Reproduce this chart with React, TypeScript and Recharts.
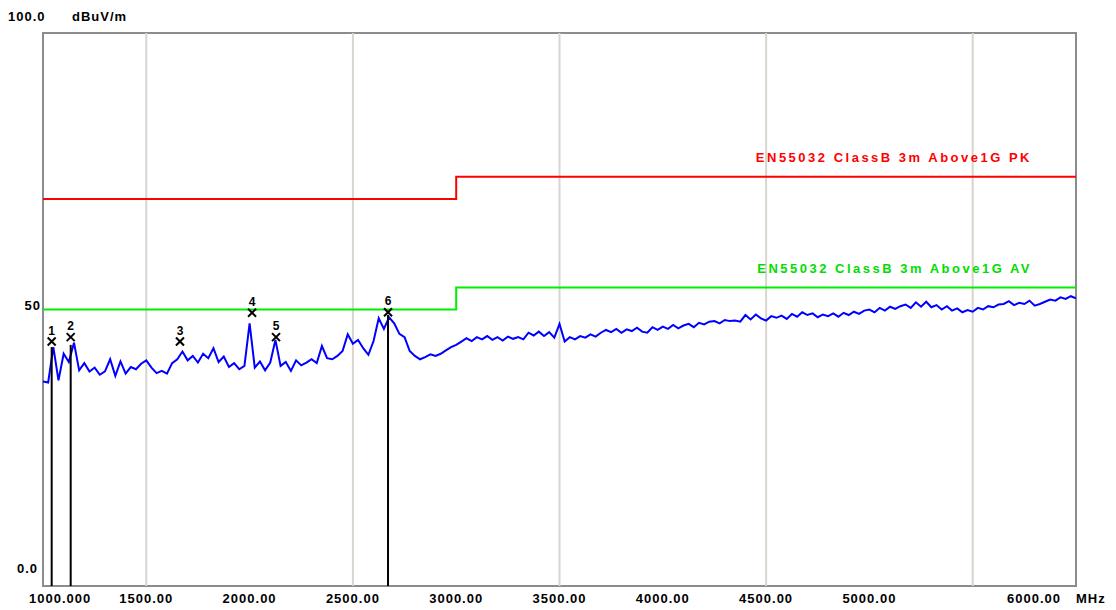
import React from "react";
import {
  ComposedChart,
  Line,
  Scatter,
  XAxis,
  YAxis,
  ReferenceLine,
  ReferenceArea,
} from "recharts";

// Frequency sweep (MHz) and measured level (dBuV/m)
const traceFreqs = [
  1000, 1025, 1050, 1075, 1100, 1125, 1150, 1175, 1200, 1225, 1250, 1275, 1300, 1325, 1350, 1375, 1400, 1425, 1450, 1475,
  1500, 1525, 1550, 1575, 1600, 1625, 1650, 1675, 1700, 1725, 1750, 1775, 1800, 1825, 1850, 1875, 1900, 1925, 1950, 1975,
  2000, 2025, 2050, 2075, 2100, 2125, 2150, 2175, 2200, 2225, 2250, 2275, 2300, 2325, 2350, 2375, 2400, 2425, 2450, 2475,
  2500, 2525, 2550, 2575, 2600, 2625, 2650, 2675, 2700, 2725, 2750, 2775, 2800, 2825, 2850, 2875, 2900, 2925, 2950, 2975,
  3000, 3025, 3050, 3075, 3100, 3125, 3150, 3175, 3200, 3225, 3250, 3275, 3300, 3325, 3350, 3375, 3400, 3425, 3450, 3475,
  3500, 3525, 3550, 3575, 3600, 3625, 3650, 3675, 3700, 3725, 3750, 3775, 3800, 3825, 3850, 3875, 3900, 3925, 3950, 3975,
  4000, 4025, 4050, 4075, 4100, 4125, 4150, 4175, 4200, 4225, 4250, 4275, 4300, 4325, 4350, 4375, 4400, 4425, 4450, 4475,
  4500, 4525, 4550, 4575, 4600, 4625, 4650, 4675, 4700, 4725, 4750, 4775, 4800, 4825, 4850, 4875, 4900, 4925, 4950, 4975,
  5000, 5025, 5050, 5075, 5100, 5125, 5150, 5175, 5200, 5225, 5250, 5275, 5300, 5325, 5350, 5375, 5400, 5425, 5450, 5475,
  5500, 5525, 5550, 5575, 5600, 5625, 5650, 5675, 5700, 5725, 5750, 5775, 5800, 5825, 5850, 5875, 5900, 5925, 5950, 5975,
  6000,
];
const traceLevels = [
  37.0, 36.8, 43.2, 37.2, 42.0, 40.5, 44.0, 39.0, 40.3, 38.8, 39.5, 38.2, 38.8, 41.0, 38.0, 40.6, 38.4, 39.6, 39.2, 40.2,
  40.8, 39.5, 38.5, 38.9, 38.4, 40.3, 41.0, 42.4, 40.8, 41.6, 40.4, 42.0, 41.2, 43.0, 40.5, 41.5, 39.6, 40.3, 39.2, 39.8,
  47.5, 39.5, 40.6, 39.0, 40.4, 44.5, 39.8, 40.5, 38.9, 40.8, 39.9, 40.4, 41.0, 40.3, 43.4, 41.2, 41.0, 41.6, 42.5, 45.5,
  43.8, 44.5, 43.0, 41.8, 44.3, 48.4, 46.5, 48.6, 47.5, 45.6, 45.0, 42.5, 41.6, 41.0, 41.4, 41.9, 41.6, 42.0, 42.6, 43.2,
  43.6, 44.2, 44.8, 44.3, 45.0, 44.6, 45.2, 44.5, 45.0, 44.4, 45.1, 44.7, 45.0, 44.6, 45.8, 45.3, 46.0, 45.2, 45.9, 44.9,
  47.4, 44.2, 45.0, 44.6, 45.2, 44.9, 45.5, 45.1, 45.8, 46.3, 45.9, 46.5, 45.8, 46.4, 46.1, 46.7, 46.0, 45.8, 46.8, 46.3,
  46.9, 46.5, 47.2, 46.6, 47.1, 47.4, 46.8, 47.6, 47.3, 47.8, 47.9, 47.5, 48.1, 47.9, 48.0, 47.8, 49.0, 48.2, 49.1, 48.4,
  48.0, 48.8, 48.5, 48.9, 48.3, 49.2, 48.7, 49.5, 49.0, 49.3, 48.6, 49.1, 48.8, 49.3, 48.7, 49.4, 49.0, 49.6, 49.2, 49.8,
  50.0, 49.5, 50.3, 49.8, 50.5, 50.1, 50.6, 50.9, 50.3, 51.3, 50.5, 51.4, 50.4, 50.8, 50.0, 50.6, 49.8, 50.2, 49.5, 49.9,
  49.6, 50.3, 50.0, 50.6, 50.4, 50.9, 51.0, 51.5, 50.8, 51.2, 51.0, 51.6, 50.7, 51.0, 51.4, 51.8, 51.6, 52.2, 51.9, 52.4,
  52.0,
];

// Limit lines
const limitFreqs = [1000, 3000, 6000];
const limitPK = [70, 74, 74];
const limitAV = [50, 54, 54];
const limitPKName = "EN55032 ClassB 3m Above1G PK";
const limitAVName = "EN55032 ClassB 3m Above1G AV";

// Markers
const markerIds = ["1", "2", "3", "4", "5", "6"];
const markerFreqs = [1042, 1134, 1663, 2012, 2128, 2670];
const markerLevels = [44.2, 45.0, 44.2, 49.4, 45.0, 49.5];
const markerHasDrop = [true, true, false, false, false, true];
const markerDropTops = [43.2, 43.6, 0, 0, 0, 49.0];

// Axes
const xTicks = [1000, 1500, 2000, 2500, 3000, 3500, 4000, 4500, 5000, 6000];
const xTickLabels = ["1000.000", "1500.00", "2000.00", "2500.00", "3000.00", "3500.00", "4000.00", "4500.00", "5000.00", "6000.00"];
const xGrid = [1500, 2500, 3500, 4500, 5500];
const yTicks = [0, 50, 100];
const yTickLabels = ["0.0", "50", "100.0"];
const yUnit = "dBuV/m";
const xUnit = "MHz";

const traceData = traceFreqs.map((f, i) => ({ f, level: traceLevels[i] }));
const pkData = limitFreqs.map((f, i) => ({ f, pk: limitPK[i] }));
const avData = limitFreqs.map((f, i) => ({ f, av: limitAV[i] }));
const markerData = markerFreqs.map((f, i) => ({ f, m: markerLevels[i], id: markerIds[i] }));

const FONT = "'Liberation Sans', Arial, sans-serif";
const textStyle = { fontFamily: FONT, fontSize: 13, fontWeight: 700, letterSpacing: 1 } as const;
const limitTextStyle = { fontFamily: FONT, fontSize: 13, fontWeight: 700, letterSpacing: 2.5 } as const;

const XTick = (props: any) => {
  const { x, payload } = props;
  const idx = xTicks.indexOf(payload.value);
  const label = xTickLabels[idx];
  const y = 590;
  if (idx === 0) {
    return (
      <text x={x - 14} y={y} textAnchor="start" dominantBaseline="central" fill="#000" style={textStyle}>
        {label}
      </text>
    );
  }
  if (idx === xTicks.length - 1) {
    return (
      <g>
        <text x={x - 15} y={y} textAnchor="end" dominantBaseline="central" fill="#000" style={textStyle}>
          {label}
        </text>
        <text x={x} y={y} textAnchor="start" dominantBaseline="central" fill="#000" style={textStyle}>
          {xUnit}
        </text>
      </g>
    );
  }
  return (
    <text x={x} y={y} textAnchor="middle" dominantBaseline="central" fill="#000" style={textStyle}>
      {label}
    </text>
  );
};

const YTick = (props: any) => {
  const { y, payload } = props;
  const idx = yTicks.indexOf(payload.value);
  const label = yTickLabels[idx];
  if (payload.value === 100) {
    return (
      <g>
        <text x={0} y={y - 17} textAnchor="start" dominantBaseline="central" fill="#000" style={textStyle}>
          {label}
        </text>
        <text x={64} y={y - 17} textAnchor="start" dominantBaseline="central" fill="#000" style={textStyle}>
          {yUnit}
        </text>
      </g>
    );
  }
  if (payload.value === 0) {
    return (
      <text x={30} y={y - 18} textAnchor="end" dominantBaseline="central" fill="#000" style={textStyle}>
        {label}
      </text>
    );
  }
  return (
    <text x={33} y={y - 4} textAnchor="end" dominantBaseline="central" fill="#000" style={textStyle}>
      {label}
    </text>
  );
};

const MarkerShape = (props: any) => {
  const { cx, cy, payload } = props;
  const s = 4;
  return (
    <g>
      <line x1={cx - s} y1={cy - s} x2={cx + s} y2={cy + s} stroke="#000" strokeWidth={2} />
      <line x1={cx - s} y1={cy + s} x2={cx + s} y2={cy - s} stroke="#000" strokeWidth={2} />
      <text x={cx} y={cy - 11} textAnchor="middle" dominantBaseline="central" fill="#000" style={{ fontFamily: FONT, fontSize: 12, fontWeight: 700 }}>
        {payload.id}
      </text>
    </g>
  );
};

const limitLabel = (name: string, color: string) => (props: any) => {
  const { x, y, index } = props;
  if (index !== limitFreqs.length - 1) return null;
  return (
    <text x={x - 44} y={y - 19} textAnchor="end" dominantBaseline="central" fill={color} style={limitTextStyle}>
      {name}
    </text>
  );
};

export default function App() {
  return (
    <ComposedChart width={1108} height={602} margin={{ top: 25, right: 40, left: 0, bottom: 0 }}>
      <XAxis
        dataKey="f"
        type="number"
        domain={[1000, 6000]}
        ticks={xTicks}
        interval={0}
        axisLine={false}
        tickLine={false}
        height={24}
        tick={<XTick />}
        allowDataOverflow
      />
      <YAxis
        type="number"
        domain={[0, 100]}
        ticks={yTicks}
        interval={0}
        axisLine={false}
        tickLine={false}
        width={35}
        tick={<YTick />}
        allowDataOverflow
      />
      {xGrid.map((g) => (
        <ReferenceLine key={g} x={g} stroke="#d8d5cf" strokeWidth={2} />
      ))}
      <ReferenceArea x1={1000} x2={6000} y1={0} y2={100} fill="none" stroke="#8c8c8c" strokeWidth={2} fillOpacity={0} />
      <Line
        data={pkData}
        dataKey="pk"
        type="stepAfter"
        stroke="#ff0000"
        strokeWidth={2}
        dot={false}
        isAnimationActive={false}
        label={limitLabel(limitPKName, "#ff0000")}
      />
      <Line
        data={avData}
        dataKey="av"
        type="stepAfter"
        stroke="#00ee00"
        strokeWidth={2}
        dot={false}
        isAnimationActive={false}
        label={limitLabel(limitAVName, "#00dd00")}
      />
      <Line
        data={traceData}
        dataKey="level"
        type="linear"
        stroke="#0000ff"
        strokeWidth={2}
        dot={false}
        isAnimationActive={false}
      />
      {markerFreqs.map((f, i) =>
        markerHasDrop[i] ? (
          <ReferenceLine
            key={"d" + i}
            segment={[
              { x: f, y: markerDropTops[i] },
              { x: f, y: 0 },
            ]}
            stroke="#000"
            strokeWidth={2}
          />
        ) : null
      )}
      <Scatter data={markerData} dataKey="m" shape={<MarkerShape />} isAnimationActive={false} />
    </ComposedChart>
  );
}
